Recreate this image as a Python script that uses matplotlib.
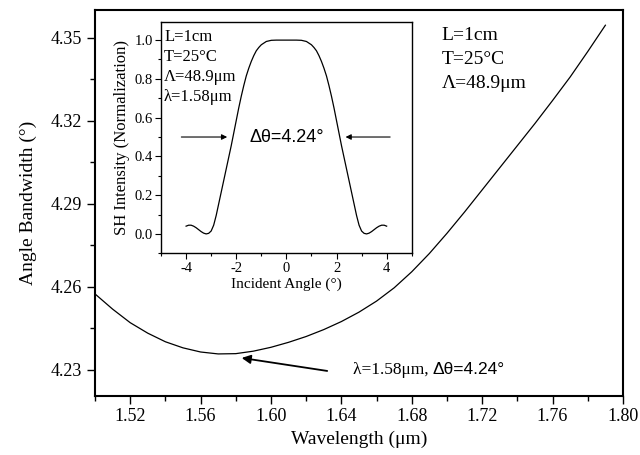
import matplotlib
matplotlib.use("Agg")
import matplotlib.pyplot as plt
from matplotlib.ticker import MultipleLocator, FormatStrFormatter

# main curve: angle bandwidth vs wavelength
wavelength = [1.500, 1.510, 1.520, 1.530, 1.540, 1.550, 1.560, 1.570, 1.580, 1.590,
              1.600, 1.610, 1.620, 1.630, 1.640, 1.650, 1.660, 1.670, 1.680, 1.690,
              1.700, 1.710, 1.720, 1.730, 1.740, 1.750, 1.760, 1.770, 1.780, 1.790]
bandwidth = [4.2574, 4.2519, 4.2470, 4.2432, 4.2401, 4.2379, 4.2364, 4.2357, 4.2358, 4.2367,
             4.2381, 4.2399, 4.2420, 4.2445, 4.2474, 4.2508, 4.2548, 4.2596, 4.2654, 4.2720,
             4.2793, 4.2870, 4.2950, 4.3030, 4.3110, 4.3190, 4.3273, 4.3358, 4.3450, 4.3545]

# inset: SH intensity vs incident angle
angle = [-4.0, -3.9, -3.8, -3.7, -3.6, -3.5, -3.4, -3.3, -3.2, -3.1, -3.0, -2.9, -2.8,
         -2.7, -2.6, -2.5, -2.4, -2.3, -2.2, -2.1, -2.0, -1.9, -1.8, -1.7, -1.6, -1.5,
         -1.4, -1.3, -1.2, -1.1, -1.0, -0.8, -0.6, -0.4, -0.2, 0.0,
         0.2, 0.4, 0.6, 0.8, 1.0, 1.1, 1.2, 1.3, 1.4, 1.5, 1.6, 1.7, 1.8, 1.9, 2.0,
         2.1, 2.2, 2.3, 2.4, 2.5, 2.6, 2.7, 2.8, 2.9, 3.0, 3.1, 3.2, 3.3, 3.4, 3.5,
         3.6, 3.7, 3.8, 3.9, 4.0]
intensity = [0.040, 0.045, 0.045, 0.040, 0.032, 0.022, 0.012, 0.004, 0.000, 0.003, 0.015,
             0.045, 0.095, 0.155, 0.215, 0.275, 0.335, 0.395, 0.455, 0.520, 0.585, 0.650,
             0.710, 0.765, 0.815, 0.855, 0.890, 0.920, 0.945, 0.962, 0.976, 0.993, 0.999,
             1.000, 1.000, 1.000,
             1.000, 1.000, 0.999, 0.993, 0.976, 0.962, 0.945, 0.920, 0.890, 0.855, 0.815,
             0.765, 0.710, 0.650, 0.585, 0.520, 0.455, 0.395, 0.335, 0.275, 0.215, 0.155,
             0.095, 0.045, 0.015, 0.003, 0.000, 0.004, 0.012, 0.022, 0.032, 0.040, 0.045,
             0.045, 0.040]

params_main = ["L=1cm", "T=25\u00b0C", "\u039b=48.9\u03bcm"]
params_inset = ["L=1cm", "T=25\u00b0C", "\u039b=48.9\u03bcm", "\u03bb=1.58\u03bcm"]

plt.rcParams["font.family"] = ["Liberation Serif", "DejaVu Serif"]
plt.rcParams["axes.unicode_minus"] = False
SANS = ["Liberation Sans", "DejaVu Sans"]

fig = plt.figure(figsize=(6.4, 4.55), dpi=100)
ax = fig.add_axes([0.1484, 0.1297, 0.8250, 0.8483])

ax.plot(wavelength, bandwidth, color="black", lw=0.9)
ax.set_xlim(1.50, 1.80)
ax.set_ylim(4.2205, 4.36)
ax.set_xticks([1.52, 1.56, 1.60, 1.64, 1.68, 1.72, 1.76, 1.80])
ax.xaxis.set_minor_locator(MultipleLocator(0.02))
ax.set_yticks([4.23, 4.26, 4.29, 4.32, 4.35])
ax.yaxis.set_minor_locator(MultipleLocator(0.015))
ax.xaxis.set_major_formatter(FormatStrFormatter("%.2f"))
ax.yaxis.set_major_formatter(FormatStrFormatter("%.2f"))
ax.tick_params(which="major", direction="out", length=5.5, width=1.0, labelsize=13)
ax.tick_params(which="minor", direction="out", length=3.5, width=1.0)
for s in ax.spines.values():
    s.set_linewidth(1.5)
ax.set_xlabel("Wavelength (\u03bcm)", fontsize=14, labelpad=4)
ax.set_ylabel("Angle Bandwidth (\u00b0)", fontsize=14, labelpad=10)

for i, t in enumerate(params_main):
    ax.text(1.697, 4.3508 - i * 0.0087, t, fontsize=14, va="center", ha="left")

# arrow to the minimum
ax.annotate("", xy=(1.5818, 4.2344), xytext=(1.6335, 4.2294),
            arrowprops=dict(arrowstyle="-|>", color="black", lw=1.3, mutation_scale=13))
t1 = ax.text(1.6466, 4.2300, "\u03bb=1.58\u03bcm, ", fontsize=12.5, va="center", ha="left")
ax.annotate("\u0394\u03b8=4.24\u00b0", xy=(1, 0.5), xycoords=t1, fontsize=12.5,
            va="center", ha="left", family=SANS)

# inset
ins = fig.add_axes([0.2516, 0.4433, 0.3917, 0.5090])
ins.plot(angle, intensity, color="black", lw=0.9)
ins.set_xlim(-5, 5)
ins.set_ylim(-0.1, 1.095)
ins.set_xticks([-4, -2, 0, 2, 4])
ins.xaxis.set_minor_locator(MultipleLocator(1))
ins.set_yticks([0.0, 0.2, 0.4, 0.6, 0.8, 1.0])
ins.yaxis.set_minor_locator(MultipleLocator(0.1))
ins.yaxis.set_major_formatter(FormatStrFormatter("%.1f"))
ins.tick_params(which="major", direction="out", length=4, width=0.8, labelsize=10.5, pad=2)
ins.tick_params(which="minor", direction="out", length=2.5, width=0.8)
for s in ins.spines.values():
    s.set_linewidth(1.0)
ins.set_xlabel("Incident Angle (\u00b0)", fontsize=11, labelpad=2)
ins.set_ylabel("SH Intensity (Normalization)", fontsize=12, labelpad=3)

for i, t in enumerate(params_inset):
    ins.text(-4.88, 1.015 - i * 0.103, t, fontsize=12, va="center", ha="left")

ins.annotate("", xy=(-2.25, 0.5), xytext=(-4.3, 0.5),
             arrowprops=dict(arrowstyle="-|>", color="black", lw=0.8, mutation_scale=8))
ins.annotate("", xy=(2.25, 0.5), xytext=(4.25, 0.5),
             arrowprops=dict(arrowstyle="-|>", color="black", lw=0.8, mutation_scale=8))
ins.text(0.0, 0.5, "\u0394\u03b8=4.24\u00b0", fontsize=13, ha="center", va="center", family=SANS)

fig.savefig("out.png", dpi=100)
